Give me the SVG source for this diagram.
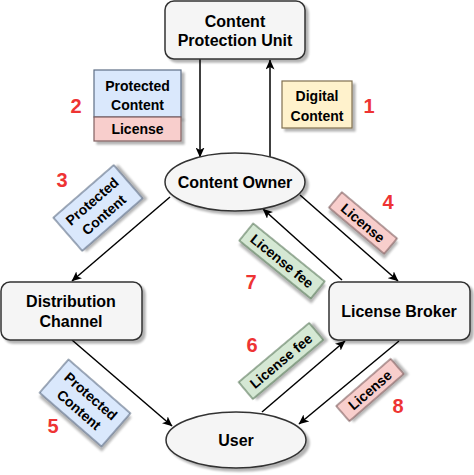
<svg xmlns="http://www.w3.org/2000/svg" width="474" height="475" viewBox="0 0 474 475">
<defs>
<filter id="sh" x="-20%" y="-20%" width="150%" height="150%">
<feGaussianBlur in="SourceAlpha" stdDeviation="1.2"/>
<feOffset dx="3" dy="3" result="o"/>
<feComponentTransfer><feFuncA type="linear" slope="0.3"/></feComponentTransfer>
<feMerge><feMergeNode/><feMergeNode in="SourceGraphic"/></feMerge>
</filter>
<marker id="ah" markerWidth="11" markerHeight="9" refX="9.5" refY="4.5" orient="auto" markerUnits="userSpaceOnUse">
<path d="M0,0 L10,4.5 L0,9 L2.5,4.5 Z" fill="#000"/>
</marker>
</defs>
<style>
.node{fill:#f5f5f5;stroke:#333333;stroke-width:1.5;filter:url(#sh)}
.nt{font-family:"Liberation Sans",Arial,sans-serif;font-weight:bold;font-size:16px;fill:#000;text-anchor:middle}
.lt{font-family:"Liberation Sans",Arial,sans-serif;font-weight:bold;font-size:14px;fill:#000;text-anchor:middle}
.num{font-family:"Liberation Sans",Arial,sans-serif;font-weight:bold;font-size:20px;fill:#ee3333;text-anchor:middle}
.blue{fill:#dae8fc;stroke:#5f6f85;stroke-width:1.2;filter:url(#sh)}
.pink{fill:#f8cecc;stroke:#806060;stroke-width:1.2;filter:url(#sh)}
.green{fill:#d5e8d4;stroke:#5a7a5a;stroke-width:1.2;filter:url(#sh)}
.yellow{fill:#fff2cc;stroke:#807050;stroke-width:1.2;filter:url(#sh)}
.edge{stroke:#000;stroke-width:1.5;fill:none;marker-end:url(#ah)}
</style>
<g id="connectors">
<line class="edge" x1="200" y1="59" x2="200" y2="157"/>
<line class="edge" x1="270" y1="157" x2="270" y2="60"/>
<line class="edge" x1="170" y1="197" x2="72" y2="281"/>
<line class="edge" x1="300" y1="195" x2="398" y2="281"/>
<line class="edge" x1="342" y1="280" x2="263" y2="209"/>
<line class="edge" x1="72" y1="340" x2="172" y2="426"/>
<line class="edge" x1="262" y1="412" x2="345" y2="341"/>
<line class="edge" x1="399" y1="341" x2="299" y2="424"/>
</g>
<g id="cpu">
<rect class="node" x="165" y="1" width="140" height="58" rx="9"/>
<text class="nt" x="235" y="27">Content</text>
<text class="nt" x="235" y="46">Protection Unit</text>
</g>
<g id="owner">
<ellipse class="node" cx="235" cy="182" rx="70" ry="29"/>
<text class="nt" x="235" y="188">Content Owner</text>
</g>
<g id="distribution">
<rect class="node" x="1" y="282" width="141" height="58" rx="9"/>
<text class="nt" x="71" y="307">Distribution</text>
<text class="nt" x="71" y="327">Channel</text>
</g>
<g id="broker">
<rect class="node" x="329" y="282" width="141" height="58" rx="9"/>
<text class="nt" x="399" y="317">License Broker</text>
</g>
<g id="user">
<ellipse class="node" cx="236" cy="440" rx="70" ry="28"/>
<text class="nt" x="236" y="446">User</text>
</g>
<g id="label2">
<rect class="blue" x="94" y="70" width="87" height="47"/>
<rect class="pink" x="94" y="117" width="87" height="24"/>
<text class="lt" x="137.5" y="91">Protected</text>
<text class="lt" x="137.5" y="110">Content</text>
<text class="lt" x="137.5" y="134">License</text>
</g>
<g id="label1">
<rect class="yellow" x="282" y="81" width="70" height="47"/>
<text class="lt" x="317" y="101">Digital</text>
<text class="lt" x="317" y="121">Content</text>
</g>
<g id="label3" transform="translate(98,208) rotate(-41)">
<rect class="blue" x="-40" y="-22" width="80" height="44"/>
<text class="lt" x="0" y="-4">Protected</text>
<text class="lt" x="0" y="14">Content</text>
</g>
<g id="label4" transform="translate(363,223) rotate(40)">
<rect class="pink" x="-36" y="-10" width="72" height="20"/>
<text class="lt" x="0" y="5">License</text>
</g>
<g id="label7" transform="translate(282,261) rotate(39)">
<rect class="green" x="-46" y="-11" width="92" height="22"/>
<text class="lt" x="0" y="5">License fee</text>
</g>
<g id="label5" transform="translate(85,403) rotate(41)">
<rect class="blue" x="-41" y="-22" width="82" height="44"/>
<text class="lt" x="0" y="-4">Protected</text>
<text class="lt" x="0" y="14">Content</text>
</g>
<g id="label6" transform="translate(281,361) rotate(-40)">
<rect class="green" x="-46" y="-11" width="92" height="22"/>
<text class="lt" x="0" y="5">License fee</text>
</g>
<g id="label8" transform="translate(370,390) rotate(-41)">
<rect class="pink" x="-36" y="-10" width="72" height="20"/>
<text class="lt" x="0" y="5">License</text>
</g>
<g id="numbers">
<text class="num" x="76" y="113">2</text>
<text class="num" x="369" y="113">1</text>
<text class="num" x="62" y="187">3</text>
<text class="num" x="388" y="209">4</text>
<text class="num" x="251" y="289">7</text>
<text class="num" x="252" y="352">6</text>
<text class="num" x="398" y="413">8</text>
<text class="num" x="53" y="433">5</text>
</g>
</svg>
